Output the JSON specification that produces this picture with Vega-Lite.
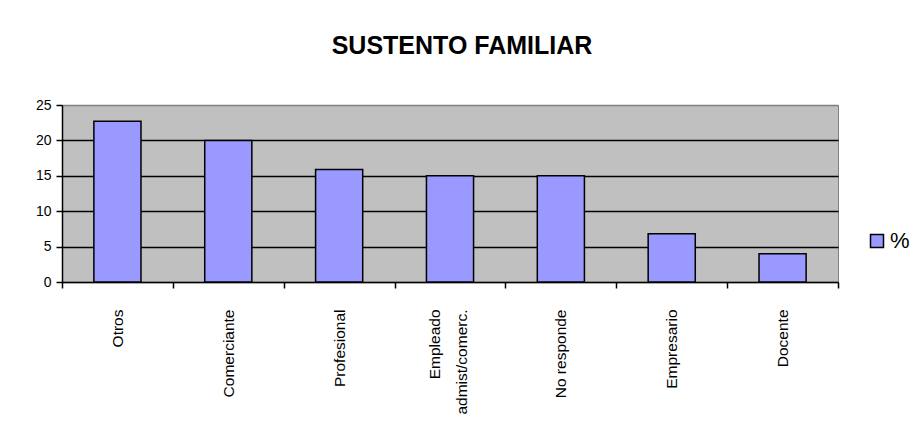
{
  "$schema": "https://vega.github.io/schema/vega-lite/v6.json",
  "width": 776,
  "height": 177,
  "autosize": {"type": "none"},
  "padding": {"left": 62, "top": 105, "right": 84, "bottom": 139},
  "background": "white",
  "title": {
    "text": "SUSTENTO FAMILIAR",
    "font": "Liberation Sans",
    "fontSize": 25,
    "fontWeight": "bold",
    "color": "black",
    "anchor": "middle",
    "baseline": "alphabetic",
    "dx": 12,
    "offset": 19
  },
  "data": {
    "values": [
      {"categoria": "Otros", "porcentaje": 22.7},
      {"categoria": "Comerciante", "porcentaje": 20},
      {"categoria": "Profesional", "porcentaje": 15.9},
      {"categoria": "Empleado admist/comerc.", "porcentaje": 15},
      {"categoria": "No responde", "porcentaje": 15},
      {"categoria": "Empresario", "porcentaje": 6.8},
      {"categoria": "Docente", "porcentaje": 4}
    ]
  },
  "mark": {"type": "bar", "stroke": "black", "strokeWidth": 1.5, "opacity": 1, "width": {"band": 0.425}},
  "encoding": {
    "x": {
      "field": "categoria",
      "type": "nominal",
      "sort": null,
      "scale": {"paddingInner": 0, "paddingOuter": 0},
      "axis": {
        "title": null,
        "labelAngle": -90,
        "labelAlign": "right",
        "labelBaseline": "middle",
        "labelFont": "Liberation Sans",
        "labelFontSize": 15.5,
        "labelColor": "black",
        "labelPadding": 21,
        "labelLineHeight": 27,
        "labelLimit": 300,
        "labelOffset": {"condition": {"test": "datum.value == 'Empleado admist/comerc.'", "value": -16}, "value": 0},
        "labelExpr": "datum.value == 'Empleado admist/comerc.' ? ['Empleado', 'admist/comerc.'] : datum.label",
        "tickBand": "extent",
        "ticks": true,
        "tickSize": 6,
        "tickColor": "black",
        "tickWidth": 1.5,
        "domainColor": "black",
        "domainWidth": 1.5,
        "grid": false
      }
    },
    "y": {
      "field": "porcentaje",
      "type": "quantitative",
      "scale": {"domain": [0, 25], "nice": false},
      "axis": {
        "title": null,
        "values": [0, 5, 10, 15, 20, 25],
        "labelFont": "Liberation Sans",
        "labelFontSize": 14,
        "labelColor": "black",
        "labelPadding": 5,
        "tickSize": 6,
        "tickColor": "black",
        "tickWidth": 1.5,
        "domainColor": "black",
        "domainWidth": 1.5,
        "grid": true,
        "gridColor": {"condition": {"test": "datum.value == 25 || datum.value == 0", "value": "#808080"}, "value": "black"},
        "gridWidth": 1.5,
        "gridOpacity": 1
      }
    },
    "color": {
      "datum": "%",
      "type": "nominal",
      "scale": {"range": ["#9999FF"]},
      "legend": {
        "title": null,
        "orient": "none",
        "legendX": 804,
        "legendY": 125,
        "padding": 0,
        "symbolType": "square",
        "symbolSize": 169,
        "symbolStrokeColor": "black",
        "symbolStrokeWidth": 1.5,
        "symbolOpacity": 1,
        "labelFont": "Liberation Sans",
        "labelFontSize": 22,
        "labelColor": "black",
        "labelOffset": 2
      }
    }
  },
  "config": {
    "view": {"fill": "#C0C0C0", "stroke": "#808080", "strokeWidth": 1}
  }
}
